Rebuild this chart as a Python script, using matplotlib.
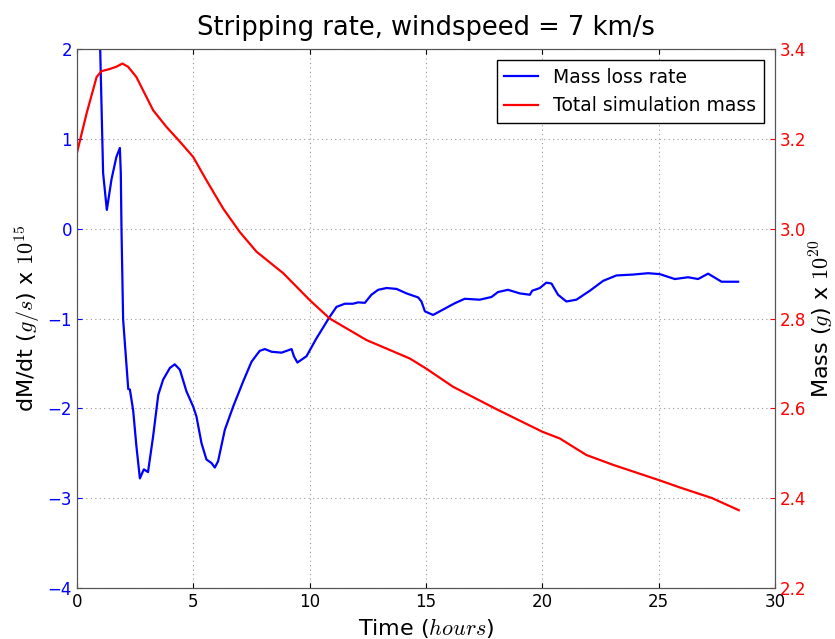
import matplotlib
matplotlib.use('Agg')
import matplotlib.pyplot as plt

plt.rcParams['mathtext.fontset'] = 'cm'
plt.rcParams['font.family'] = ['DejaVu Sans']

# mass loss rate (x 1e15 g/s)
t_rate = [1.0, 1.13, 1.29, 1.49, 1.70, 1.85, 1.89, 1.92, 1.99, 2.21, 2.28, 2.42, 2.56,
          2.71, 2.88, 3.06, 3.28, 3.50, 3.71, 4.0, 4.21, 4.43, 4.71, 5.0, 5.14, 5.36,
          5.57, 5.79, 5.93, 6.07, 6.36, 6.72, 7.15, 7.51, 7.86, 8.08, 8.37, 8.80, 9.23,
          9.33, 9.48, 9.87, 10.30, 10.87, 11.16, 11.52, 11.87, 12.09, 12.38, 12.66,
          12.95, 13.31, 13.74, 14.17, 14.67, 14.81, 14.96, 15.31, 15.74, 16.24, 16.67,
          17.32, 17.82, 18.10, 18.53, 19.04, 19.47, 19.57, 19.90, 20.18, 20.40, 20.68,
          21.04, 21.47, 22.05, 22.62, 23.19, 23.91, 24.55, 25.05, 25.70, 26.27, 26.70,
          27.13, 27.71, 28.42]
rate = [2.05, 0.62, 0.21, 0.55, 0.80, 0.90, 0.62, -0.01, -1.01, -1.785, -1.79, -2.02,
        -2.42, -2.78, -2.68, -2.71, -2.31, -1.85, -1.68, -1.55, -1.51, -1.57, -1.81,
        -1.98, -2.09, -2.39, -2.57, -2.61, -2.66, -2.59, -2.24, -1.98, -1.70, -1.48,
        -1.36, -1.34, -1.37, -1.38, -1.34, -1.42, -1.49, -1.42, -1.22, -0.98, -0.87,
        -0.835, -0.835, -0.82, -0.825, -0.735, -0.68, -0.66, -0.67, -0.72, -0.765,
        -0.81, -0.92, -0.96, -0.90, -0.83, -0.78, -0.79, -0.76, -0.705, -0.68, -0.72,
        -0.735, -0.69, -0.66, -0.60, -0.61, -0.735, -0.81, -0.79, -0.69, -0.58, -0.52,
        -0.51, -0.495, -0.505, -0.56, -0.54, -0.56, -0.50, -0.59, -0.59]

# total simulation mass (x 1e20 g)
t_mass = [0.0, 0.42, 0.85, 1.06, 1.42, 1.70, 1.96, 2.2, 2.56, 3.28, 3.85, 4.43, 5.0,
          5.57, 6.29, 7.0, 7.72, 8.87, 10.01, 10.87, 12.45, 14.31, 15.0, 16.17, 18.04,
          20.0, 20.75, 21.9, 23.05, 25.02, 25.9, 27.3, 28.45]
mass = [3.168, 3.257, 3.338, 3.351, 3.356, 3.361, 3.368, 3.361, 3.338, 3.264, 3.227,
        3.194, 3.16, 3.108, 3.045, 2.993, 2.949, 2.901, 2.841, 2.80, 2.752, 2.711,
        2.689, 2.648, 2.598, 2.548, 2.533, 2.496, 2.474, 2.44, 2.424, 2.40, 2.373]

fig, ax1 = plt.subplots(figsize=(8.35, 6.39), dpi=100)
fig.subplots_adjust(left=0.092, right=0.928, top=0.923, bottom=0.080)

l1, = ax1.plot(t_rate, rate, color='blue', lw=1.6, label='Mass loss rate')
ax1.set_xlim(0, 30)
ax1.set_ylim(-4, 2)
ax1.set_xlabel('Time ($hours$)', fontsize=16)
ax1.set_ylabel('dM/dt ($g/s$) x $10^{15}$', fontsize=16)
ax1.tick_params(axis='y', colors='blue', labelsize=12, direction='in')
ax1.tick_params(axis='x', labelsize=12, direction='in', top=True)
ax1.grid(True, linestyle=(0, (1, 3)), color='#999999', lw=0.8)
ax1.set_title('Stripping rate, windspeed = 7 km/s', fontsize=18.5, pad=10)

ax2 = ax1.twinx()
l2, = ax2.plot(t_mass, mass, color='red', lw=1.6, label='Total simulation mass')
ax2.set_ylim(2.2, 3.4)
ax2.set_ylabel('Mass ($g$) x $10^{20}$', fontsize=16, labelpad=1.5)
ax2.tick_params(axis='y', colors='red', labelsize=12, direction='in')

for ax in (ax1, ax2):
    for sp in ax.spines.values():
        sp.set_color('#555555')

leg = ax2.legend(handles=[l1, l2], loc='upper right', fontsize=13.5, handlelength=1.8,
                 fancybox=False, framealpha=1, edgecolor='black', borderaxespad=0.6)
leg.get_frame().set_linewidth(1.0)

fig.savefig('out.png', dpi=100)
